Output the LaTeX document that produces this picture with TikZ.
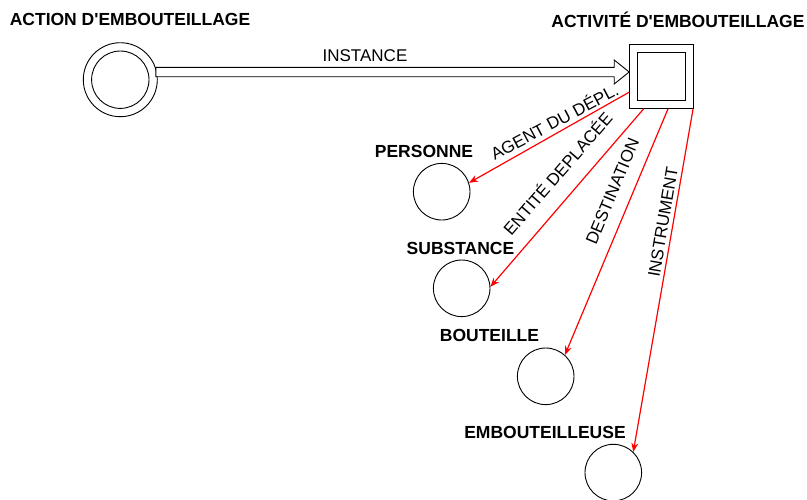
\documentclass[tikz,border=0pt]{standalone}
\usepackage{fontspec}
\setmainfont{Liberation Sans}[Ligatures=TeXOff]
\usetikzlibrary{arrows.meta,calc}
\tikzstyle{concept}=[circle,draw,minimum size=56.6pt,inner sep=0pt,line width=0.9pt]
\tikzstyle{title}=[font=\fontsize{17.5}{20}\selectfont\bfseries,inner sep=0pt]
\tikzstyle{rel}=[font=\fontsize{17}{20}\selectfont,inner sep=0pt]
\tikzstyle{role}=[red,line width=1.2pt,-{Stealth[length=9pt,width=7pt]}]

\begin{document}
\begin{tikzpicture}[x=1pt,y=-1pt]
\useasboundingbox (0, 0) rectangle (807, 499);
% action and activity
\node[circle,draw,minimum size=74pt,inner sep=0pt,line width=0.9pt] at (120.3, 79.7) (act) {};
\node[circle,draw,minimum size=57.4pt,inner sep=0pt,line width=0.9pt] at (act.center) (actin) {};
\node[draw,minimum size=64pt,inner sep=0pt,line width=1pt] at (661.7, 76.3) (box) {};
\node[draw,minimum size=48.4pt,inner sep=0pt,line width=1pt] at (box.center) (boxin) {};
\node[title] at (130, 19.5) (tact) {ACTION D'EMBOUTEILLAGE};
\node[title] at (678, 19.5) (tbox) {ACTIVITÉ D'EMBOUTEILLAGE};

% participants
\node[concept] at (441.7, 191.7) (pers) {};
\node[concept] at (461.7, 288.3) (subst) {};
\node[concept] at (545.7, 376.3) (bott) {};
\node[concept] at (613.3, 472.6) (embo) {};
\node[title] at (424, 151) (tpers) {PERSONNE};
\node[title] at (460.5, 248.5) (tsubst) {SUBSTANCE};
\node[title] at (489.5, 335.5) (tbott) {BOUTEILLE};
\node[title] at (545, 432) (tembo) {EMBOUTEILLEUSE};

% instance arrow
\coordinate (s) at ($(act.center)+(35.5,-7.7)$);
\coordinate (tip) at ($(box.west)+(0,-4.3)$);
\draw[line width=0.9pt,fill=white] ($(s)+(0,-4.7)$) -- ($(tip)+(-15,-4.7)$) -- ($(tip)+(-15,-12)$) -- (tip)
  -- ($(tip)+(-15,12)$) -- ($(tip)+(-15,4.7)$) -- ($(s)+(0,4.7)$) -- cycle;
\node[rel] at (365, 56) (lins) {INSTANCE};

% roles
\draw[role] (box.206.3) -- (pers.18);
\draw[role] (box.241.5) -- (subst.3);
\draw[role] (box.281.7) -- (bott.48);
\draw[role] (box.314) -- (embo.46);
\node[rel,rotate=28] at (554, 121) (lagent) {AGENT DU DÉPL.};
\node[rel,rotate=49.1] at (557, 173) (lent) {ENTITÉ DEPLACÉE};
\node[rel,rotate=67.3] at (612.5, 191) (ldest) {DESTINATION};
\node[rel,rotate=80.4] at (663, 222) (linst) {INSTRUMENT};
\end{tikzpicture}
\end{document}
